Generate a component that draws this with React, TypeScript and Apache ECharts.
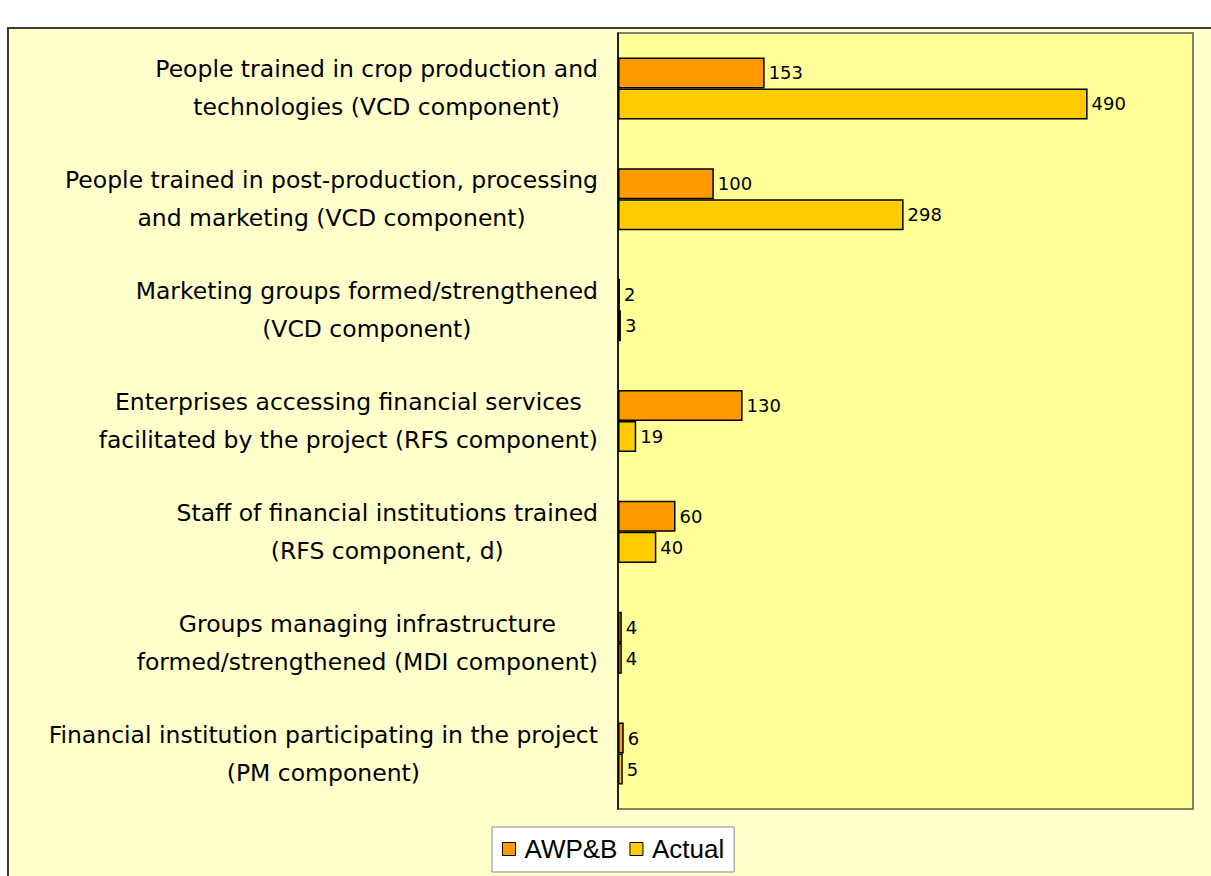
import React, { useEffect, useRef } from 'react';
import * as echarts from 'echarts';

const categories = [
  'People trained in crop production and\ntechnologies (VCD component)',
  'People trained in post-production, processing\nand marketing (VCD component)',
  'Marketing groups formed/strengthened\n(VCD component)',
  'Enterprises accessing financial services\nfacilitated by the project (RFS component)',
  'Staff of financial institutions trained\n(RFS component, d)',
  'Groups managing infrastructure\nformed/strengthened (MDI component)',
  'Financial institution participating in the project\n(PM component)',
];
const seriesNames = ['AWP&B', 'Actual'];
const awpbValues = [153, 100, 2, 130, 60, 4, 6];
const actualValues = [490, 298, 3, 19, 40, 4, 5];
const axisMin = 0;
const axisMax = 600;

const LABEL_FONT = '"DejaVu Sans", Verdana, sans-serif';

export default function App() {
  const ref = useRef<HTMLDivElement>(null);

  useEffect(() => {
    if (!ref.current) return;
    const chart = echarts.init(ref.current, undefined, { renderer: 'svg' });
    const barLabel = {
      show: true,
      position: 'right',
      distance: 4,
      color: '#000',
      fontFamily: LABEL_FONT,
      fontSize: 18,
    };
    chart.setOption({
      animation: false,
      backgroundColor: '#ffffff',
      graphic: [
        {
          type: 'rect',
          silent: true,
          z: -10,
          shape: { x: 8, y: 28, width: 1230, height: 900 },
          style: { fill: '#FFFFCC', stroke: '#3a3a3a', lineWidth: 2 },
        },
      ],
      grid: {
        left: 618,
        top: 33,
        width: 575,
        height: 776,
        show: true,
        backgroundColor: '#FFFF99',
        borderColor: '#5a5a4a',
        borderWidth: 1.5,
        containLabel: false,
      },
      legend: {
        left: 492,
        top: 827,
        data: seriesNames,
        backgroundColor: '#ffffff',
        borderColor: '#8a8a8a',
        borderWidth: 1,
        padding: [9, 10, 10, 10],
        itemWidth: 13,
        itemHeight: 13,
        itemGap: 12,
        icon: 'rect',
        itemStyle: { borderColor: '#000', borderWidth: 1 },
        textStyle: {
          fontFamily: '"Liberation Sans", Arial, sans-serif',
          fontSize: 26,
          color: '#000',
          padding: [0, 0, 0, 4],
        },
      },
      xAxis: {
        type: 'value',
        min: axisMin,
        max: axisMax,
        show: false,
        splitLine: { show: false },
      },
      yAxis: {
        type: 'category',
        inverse: true,
        data: categories,
        axisLine: { show: true, lineStyle: { color: '#000', width: 1.5 } },
        axisTick: { show: false },
        axisLabel: {
          margin: 20,
          color: '#000',
          fontFamily: LABEL_FONT,
          fontSize: 23.5,
          lineHeight: 38,
          formatter: (v: string) =>
            v
              .split('\n')
              .map((l) => '{c|' + l + '}')
              .join('\n'),
          rich: {
            c: {
              align: 'center',
              fontFamily: LABEL_FONT,
              fontSize: 23.5,
              lineHeight: 38,
              color: '#000',
            },
          },
        },
      },
      series: [
        {
          name: seriesNames[0],
          type: 'bar',
          data: awpbValues,
          barGap: '0%',
          barCategoryGap: '44%',
          itemStyle: { color: '#FF9900', borderColor: '#000', borderWidth: 1.5 },
          label: barLabel,
        },
        {
          name: seriesNames[1],
          type: 'bar',
          data: actualValues,
          barGap: '0%',
          barCategoryGap: '44%',
          itemStyle: { color: '#FFCC00', borderColor: '#000', borderWidth: 1.5 },
          label: barLabel,
        },
      ],
    });
    return () => chart.dispose();
  }, []);

  return (
    <div
      ref={ref}
      style={{ position: 'fixed', left: 0, top: 0, width: 1211, height: 876 }}
    />
  );
}
